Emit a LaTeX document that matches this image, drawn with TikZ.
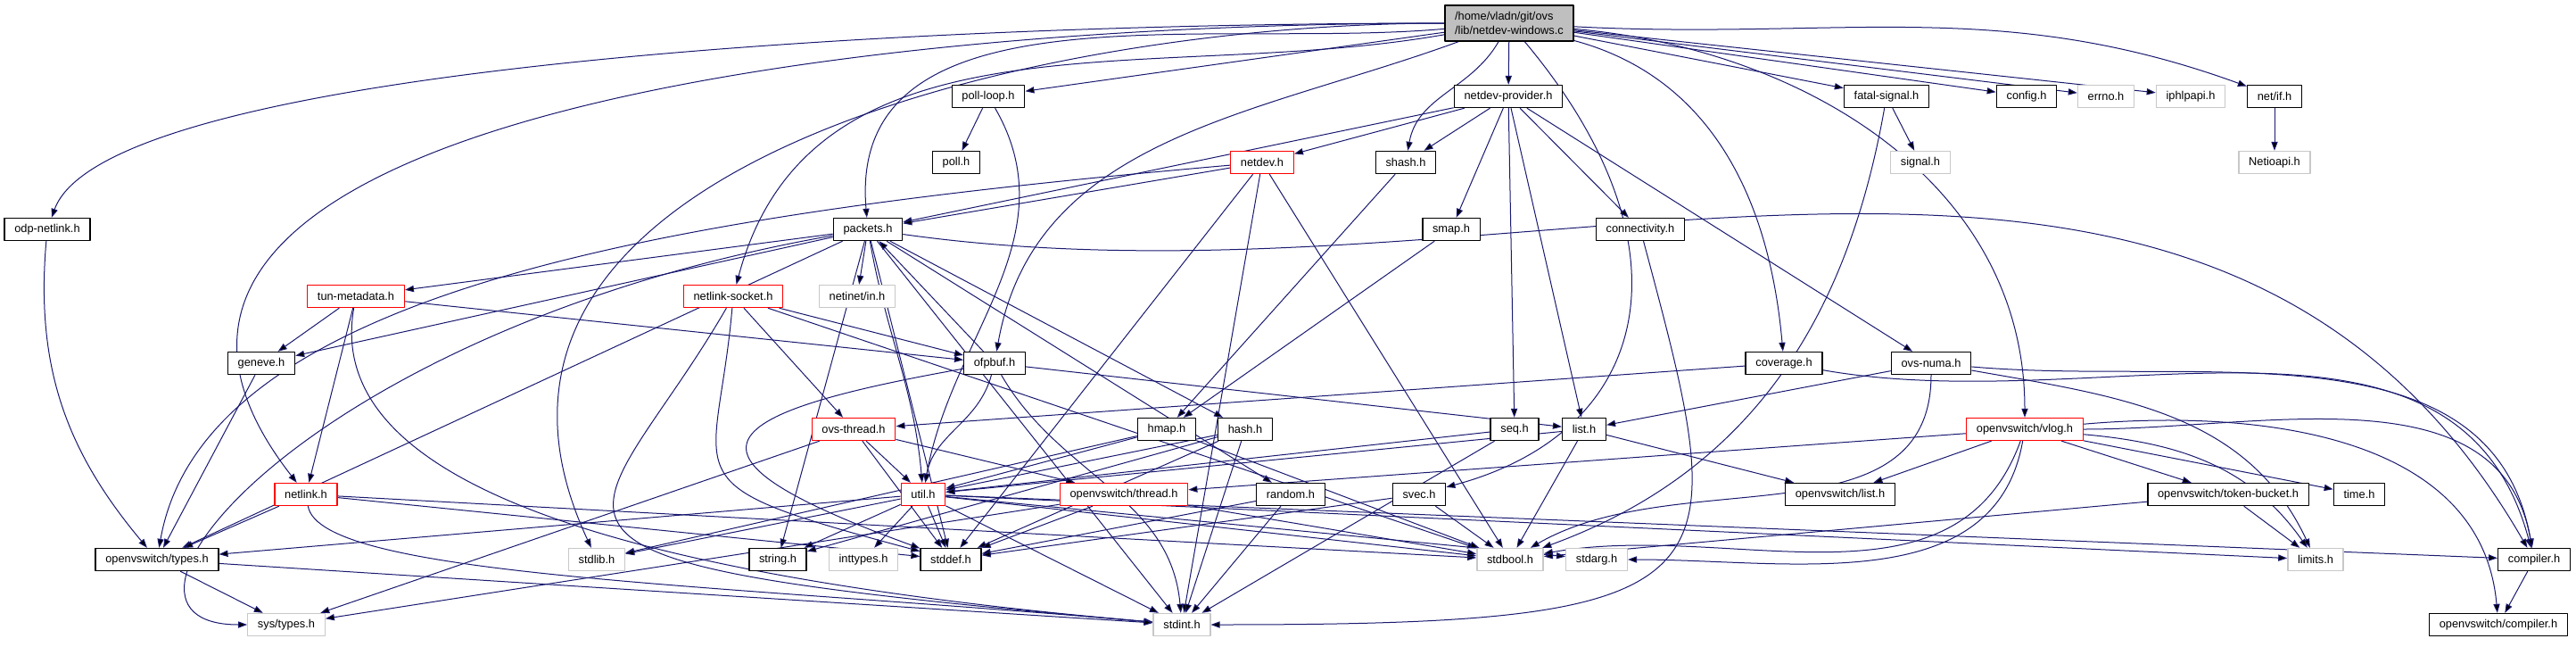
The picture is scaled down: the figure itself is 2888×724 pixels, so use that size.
\documentclass[tikz,border=0pt]{standalone}
\usepackage{fontspec}
\setmainfont{Liberation Sans}
\usetikzlibrary{arrows.meta}
\definecolor{edgeblue}{HTML}{191970}
\definecolor{rootgray}{HTML}{BFBFBF}
\definecolor{sysgray}{HTML}{C8C8C8}
\pgfdeclarelayer{edgelayer}
\pgfsetlayers{edgelayer,main}
\tikzset{
  filenode/.style={rectangle,draw=black,fill=white,line width=0.7pt,minimum height=12.5pt,
    inner xsep=5.6pt,inner ysep=0pt,font=\fontsize{6.4}{7.6}\selectfont},
  sysnode/.style={filenode,draw=sysgray},
  cutnode/.style={filenode,draw=red},
  rootnode/.style={filenode,fill=rootgray,align=left,minimum height=20pt},
  incedge/.style={draw=edgeblue,line width=0.5pt,-{Triangle[length=5pt,width=3.6pt]}},
  every picture/.style={line cap=round,line join=round}
}

\begin{document}
\begin{tikzpicture}[x=0.5pt,y=0.5pt]
  \useasboundingbox (0,0) rectangle (2888,-724);
  % rows of included files
  \node[rootnode] (root) at (1692,-26) {/home/vladn/git/ovs\\/lib/netdev-windows.c};
  \node[filenode] (pollloop) at (1108,-108) {poll-loop.h};
  \node[filenode] (nprov) at (1691,-108) {netdev-provider.h};
  \node[filenode] (fatal) at (2115,-108) {fatal-signal.h};
  \node[filenode] (config) at (2272,-108) {config.h};
  \node[sysnode] (errno) at (2361,-108) {errno.h};
  \node[sysnode] (iphlp) at (2456,-108) {iphlpapi.h};
  \node[filenode] (netif) at (2550,-108) {net/if.h};
  \node[filenode] (poll) at (1072,-182) {poll.h};
  \node[cutnode] (netdev) at (1415,-182) {netdev.h};
  \node[filenode] (shash) at (1576,-182) {shash.h};
  \node[sysnode] (signal) at (2153,-182) {signal.h};
  \node[sysnode] (netio) at (2550,-182) {Netioapi.h};
  \node[filenode] (odpnl) at (53,-257) {odp-netlink.h};
  \node[filenode] (packets) at (973,-257) {packets.h};
  \node[filenode] (smap) at (1627,-257) {smap.h};
  \node[filenode] (conn) at (1839,-257) {connectivity.h};
  \node[cutnode] (tunmd) at (399,-332) {tun-metadata.h};
  \node[cutnode] (nlsock) at (822,-332) {netlink-socket.h};
  \node[sysnode] (netinet) at (961,-332) {netinet/in.h};
  \node[filenode] (geneve) at (293,-407) {geneve.h};
  \node[filenode] (ofpbuf) at (1115,-407) {ofpbuf.h};
  \node[filenode] (coverage) at (2000,-407) {coverage.h};
  \node[filenode] (numa) at (2165,-407) {ovs-numa.h};
  \node[cutnode] (ovsthr) at (957,-481) {ovs-thread.h};
  \node[filenode] (hmap) at (1308,-481) {hmap.h};
  \node[filenode] (hash) at (1396,-481) {hash.h};
  \node[filenode] (seq) at (1698,-481) {seq.h};
  \node[filenode] (list) at (1776,-481) {list.h};
  \node[cutnode] (vlog) at (2270,-481) {openvswitch/vlog.h};
  \node[cutnode] (netlink) at (343,-554) {netlink.h};
  \node[cutnode] (util) at (1035,-554) {util.h};
  \node[cutnode] (ovsthread) at (1260,-554) {openvswitch/thread.h};
  \node[filenode] (random) at (1447,-554) {random.h};
  \node[filenode] (svec) at (1591,-554) {svec.h};
  \node[filenode] (ovslist) at (2063,-554) {openvswitch/list.h};
  \node[filenode] (tokbuck) at (2498,-554) {openvswitch/token-bucket.h};
  \node[filenode] (time) at (2645,-554) {time.h};
  \node[filenode] (types) at (176,-627) {openvswitch/types.h};
  \node[sysnode] (stdlib) at (669,-627) {stdlib.h};
  \node[filenode] (string) at (872,-627) {string.h};
  \node[sysnode] (inttypes) at (968,-627) {inttypes.h};
  \node[filenode] (stddef) at (1066,-627) {stddef.h};
  \node[sysnode] (stdbool) at (1693,-627) {stdbool.h};
  \node[sysnode] (stdarg) at (1790,-627) {stdarg.h};
  \node[sysnode] (limits) at (2596,-627) {limits.h};
  \node[filenode] (compiler) at (2841,-627) {compiler.h};
  \node[sysnode] (systypes) at (321,-700) {sys/types.h};
  \node[sysnode] (stdint) at (1325,-700) {stdint.h};
  \node[filenode] (ovscomp) at (2801,-700) {openvswitch/compiler.h};

  \begin{pgfonlayer}{edgelayer}
  % includes of the source file
  \draw[incedge] (root) edge (pollloop) edge (nprov) edge (fatal) edge (config)
    edge (errno) edge (iphlp) edge[out=-3,in=160] (netif)
    edge[out=240,in=80] (shash)
    edge[out=180,in=70,out distance=300pt,in distance=90pt] (odpnl)
    edge[out=180,in=128,out distance=320pt,in distance=260pt] (netlink)
    edge[out=180,in=115,out distance=220pt,in distance=240pt] (stdlib)
    edge[out=185,in=95] (packets) edge[out=190,in=75] (nlsock)
    edge[out=200,in=80] (ofpbuf)
    edge[out=-50,in=15,out distance=150pt,in distance=120pt] (svec)
    edge[out=-15,in=95] (coverage) edge[out=-5,in=90] (vlog);
  % second level
  \draw[incedge] (pollloop) edge (poll) edge[out=-60,in=80] (util);
  \draw[incedge] (nprov) edge (netdev) edge (packets) edge (shash) edge (smap)
    edge (seq) edge (list) edge (conn) edge (numa);
  \draw[incedge] (fatal) edge (signal) edge[out=-100,in=20] (stdbool);
  \draw[incedge] (netif) edge (netio);
  \draw[incedge] (netdev) edge (packets)
    edge[out=185,in=80,out distance=300pt,in distance=150pt] (types)
    edge (stddef) edge (stdbool) edge (stdint);
  \draw[incedge] (shash) edge (hmap);
  \draw[incedge] (smap) edge (hmap);
  \draw[incedge] (conn) edge[out=-75,in=0,out distance=200pt,in distance=300pt] (stdint);
  \draw[incedge] (odpnl) edge[out=-95,in=130] (types);
  \draw[incedge] (packets) edge (netinet) edge (tunmd) edge (geneve) edge (types)
    edge[out=190,in=180,out distance=300pt,in distance=100pt] (systypes)
    edge[out=-80,in=95] (util) edge (string) edge (stddef)
    edge (stdint) edge (hash) edge (random) edge[out=-8,in=120] (compiler);
  \draw[incedge] (tunmd) edge (geneve) edge (netlink)
    edge[out=-100,in=175,out distance=100pt,in distance=300pt] (stdint) edge (ofpbuf);
  \draw[incedge] (nlsock) edge (ofpbuf) edge (ovsthr) edge (stdbool)
    edge[out=-95,in=165,out distance=100pt,in distance=150pt] (stddef)
    edge[out=-120,in=175,out distance=150pt,in distance=400pt] (stdint);
  \draw[incedge] (geneve) edge (types);
  \draw[incedge] (ofpbuf) edge (packets) edge (list) edge[out=-105,in=80] (util)
    edge[out=190,in=160,out distance=150pt,in distance=150pt] (stddef)
    edge[out=-60,in=95] (stdint);
  \draw[incedge] (coverage) edge (ovsthr) edge[out=-10,in=105] (compiler);
  \draw[incedge] (numa) edge (list) edge[out=-5,in=100] (compiler)
    edge[out=-10,in=115] (limits) edge[out=-90,in=30] (stdbool);
  % lower levels
  \draw[incedge] (ovsthr) edge (util) edge (stddef) edge (ovsthread) edge (systypes);
  \draw[incedge] (hmap) edge (util) edge (stdbool) edge (stdlib);
  \draw[incedge] (hash) edge (util) edge (string) edge (stddef) edge (stdint);
  \draw[incedge] (seq) edge (util) edge (stdint);
  \draw[incedge] (list) edge (util) edge (stdbool) edge (ovslist);
  \draw[incedge] (vlog) edge (ovsthread) edge (ovslist) edge (tokbuck) edge (time)
    edge[out=-5,in=125] (limits) edge[out=0,in=100] (compiler)
    edge[out=5,in=95] (ovscomp) edge[out=-100,in=0] (stdarg)
    edge[out=-110,in=10] (stdbool);
  \draw[incedge] (netlink) edge (types) edge (stddef) edge (stdbool)
    edge[out=-80,in=175,out distance=40pt,in distance=250pt] (stdint);
  \draw[incedge] (util) edge (types) edge (stdlib) edge (string) edge (inttypes)
    edge (stddef) edge (stdint) edge (stdbool) edge (stdarg) edge (limits)
    edge (compiler);
  \draw[incedge] (ovsthread) edge (stdbool) edge (stddef) edge (systypes);
  \draw[incedge] (random) edge (stddef) edge (stdint);
  \draw[incedge] (svec) edge (stdbool) edge (stddef);
  \draw[incedge] (tokbuck) edge (limits) edge (stdbool);
  \draw[incedge] (compiler) edge (ovscomp);
  \draw[incedge] (types) edge (systypes) edge (stdint);
  \end{pgfonlayer}
\end{tikzpicture}
\end{document}
